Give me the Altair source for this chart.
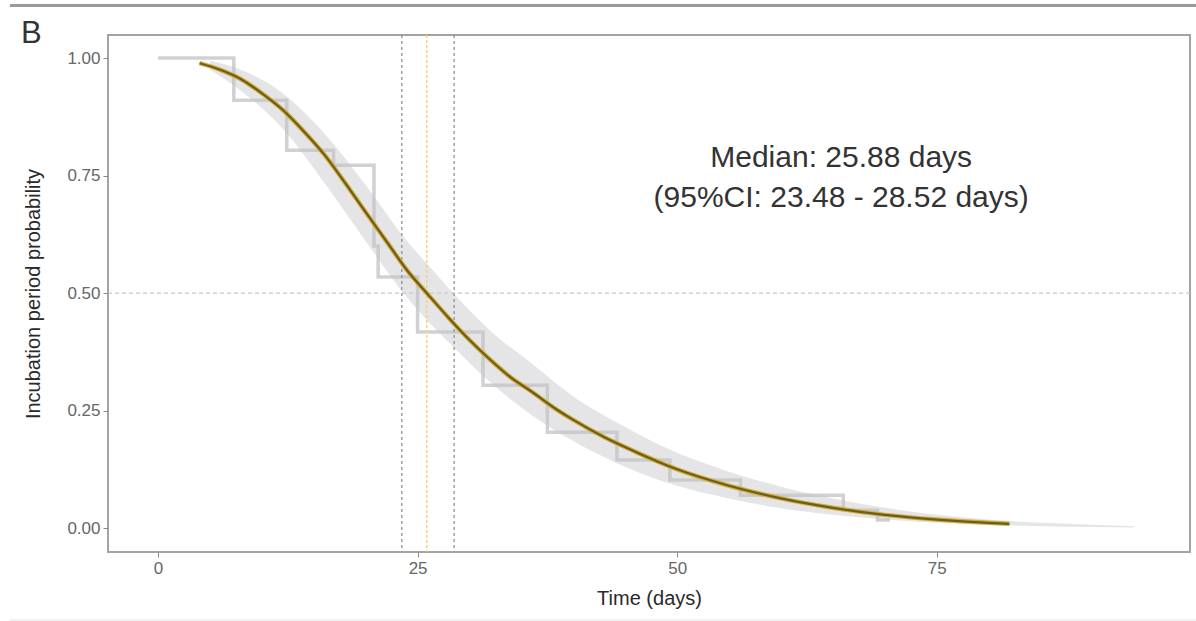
import altair as alt
import pandas as pd

# ---- data ----
fit_x = [4, 6, 8, 10, 12, 14, 16, 18, 20, 22, 24, 26, 28, 30, 32, 34, 36, 38, 40,
         43, 46, 50, 55, 60, 65, 70, 75, 80, 82]
fit_y = [0.989, 0.975, 0.955, 0.925, 0.890, 0.845, 0.795, 0.735, 0.672, 0.610,
         0.548, 0.497, 0.447, 0.400, 0.358, 0.320, 0.290, 0.258, 0.230,
         0.193, 0.162, 0.125, 0.090, 0.063, 0.043, 0.028, 0.018, 0.011, 0.009]

band_x = [5, 8, 12, 16, 20, 24, 26, 28, 32, 36, 40, 45, 50, 55, 60, 65, 70, 75,
          80, 85, 90, 94]
band_lo = [0.975, 0.930, 0.850, 0.735, 0.610, 0.490, 0.440, 0.395, 0.310, 0.240,
           0.185, 0.130, 0.090, 0.063, 0.042, 0.028, 0.018, 0.011, 0.007, 0.004,
           0.002, 0.001]
band_hi = [0.995, 0.975, 0.925, 0.840, 0.730, 0.610, 0.560, 0.510, 0.420, 0.350,
           0.280, 0.215, 0.160, 0.120, 0.088, 0.063, 0.043, 0.028, 0.018, 0.011,
           0.007, 0.004]

km_x = [0, 7.3, 12.4, 16.9, 20.8, 21.2, 25.0, 31.3, 37.5, 44.2, 49.3, 56.1, 66.0, 69.3, 70.5]
km_y = [1.0, 0.91, 0.804, 0.772, 0.600, 0.534, 0.417, 0.304, 0.204, 0.145, 0.102,
        0.070, 0.038, 0.017, 0.017]

ci_low, median, ci_high = 23.48, 25.88, 28.52
half_line = [0.5]

note_lines = ["Median: 25.88 days", "(95%CI: 23.48 - 28.52 days)"]
note_x = [65.8, 65.8]
note_y = [0.768, 0.683]

x_ticks = [0, 25, 50, 75]
y_ticks = [0.0, 0.25, 0.5, 0.75, 1.0]

FONT = "Liberation Sans"
W, H = 1082, 517

fit_df = pd.DataFrame({"t": fit_x, "p": fit_y})
band_df = pd.DataFrame({"t": band_x, "lo": band_lo, "hi": band_hi})
km_df = pd.DataFrame({"t": km_x, "p": km_y})
vl_df = pd.DataFrame({"t": [ci_low, ci_high]})
med_df = pd.DataFrame({"t": [median]})
hl_df = pd.DataFrame({"p": half_line})
note_df = pd.DataFrame({"t": note_x, "p": note_y, "txt": note_lines})

xscale = alt.Scale(domain=[-4.82, 99.4], nice=False, zero=False)
yscale = alt.Scale(domain=[-0.051, 1.049], nice=False, zero=False)

xaxis = alt.Axis(values=x_ticks, title="Time (days)", grid=False, domain=False,
                 tickColor="#8a8a8a", tickSize=5, labelColor="#666666",
                 labelFontSize=17, labelFont=FONT, labelPadding=3,
                 titleFont=FONT, titleFontSize=20, titleFontWeight="normal",
                 titleColor="#2a2a2a", titleY=46, titleBaseline="middle")
yaxis = alt.Axis(values=y_ticks, format=".2f", title="Incubation period probability",
                 grid=False, domain=False, tickColor="#8a8a8a", tickSize=5,
                 labelColor="#666666", labelFontSize=17, labelFont=FONT, labelPadding=3,
                 titleFont=FONT, titleFontSize=20, titleFontWeight="normal",
                 titleColor="#2a2a2a", titleX=-75, titleY=H / 2, titleBaseline="middle")

band = alt.Chart(band_df).mark_area(color="#e2e2e5", opacity=0.9, interpolate="monotone").encode(
    x=alt.X("t:Q", scale=xscale, axis=xaxis),
    y=alt.Y("lo:Q", scale=yscale, axis=yaxis),
    y2="hi:Q",
)

km = alt.Chart(km_df).mark_line(color="#c2c2c6", strokeWidth=3.5, opacity=0.75,
                                interpolate="step-after").encode(
    x=alt.X("t:Q", scale=xscale), y=alt.Y("p:Q", scale=yscale))

hline = alt.Chart(hl_df).mark_rule(color="#c8c8c8", strokeDash=[4, 3], strokeWidth=1.2).encode(
    y=alt.Y("p:Q", scale=yscale))

vlines = alt.Chart(vl_df).mark_rule(color="#96969c", strokeDash=[3, 3], strokeWidth=1.4).encode(
    x=alt.X("t:Q", scale=xscale))

mline = alt.Chart(med_df).mark_rule(color="#f5cf7a", strokeDash=[3, 2], strokeWidth=1.4).encode(
    x=alt.X("t:Q", scale=xscale))

fit_under = alt.Chart(fit_df).mark_line(color="#cfae3c", strokeWidth=4.5, interpolate="monotone").encode(
    x=alt.X("t:Q", scale=xscale), y=alt.Y("p:Q", scale=yscale))
fit_top = alt.Chart(fit_df).mark_line(color="#6d5c1a", strokeWidth=2.2, interpolate="monotone").encode(
    x=alt.X("t:Q", scale=xscale), y=alt.Y("p:Q", scale=yscale))

note = alt.Chart(note_df).mark_text(font=FONT, fontSize=30, color="#333333",
                                    align="center", baseline="alphabetic").encode(
    x=alt.X("t:Q", scale=xscale), y=alt.Y("p:Q", scale=yscale), text="txt:N")

panel_label = alt.Chart(pd.DataFrame({"lab": ["B"]})).mark_text(
    font=FONT, fontSize=31, color="#333333", align="left", baseline="alphabetic").encode(
    x=alt.value(-87), y=alt.value(8), text="lab:N")

top_line = alt.Chart(pd.DataFrame({"k": [0]})).mark_rule(color="#9a9a9a", strokeWidth=3).encode(
    x=alt.value(-98), x2=alt.value(1090), y=alt.value(-29.5))
bottom_line = alt.Chart(pd.DataFrame({"k": [0]})).mark_rule(color="#ececec", strokeWidth=1.5).encode(
    x=alt.value(-98), x2=alt.value(1090), y=alt.value(585))

chart = alt.layer(
    band, km, hline, vlines, mline, fit_under, fit_top, note, panel_label, top_line, bottom_line
).properties(
    width=W, height=H,
    autosize=alt.AutoSizeParams(type="none"),
    padding={"left": 108, "top": 35, "right": 6, "bottom": 69},
    background="white",
).configure_view(
    stroke="#a3a3a3", strokeWidth=2
)

chart.save("out.html", embed_options={"renderer": "svg", "actions": False})
